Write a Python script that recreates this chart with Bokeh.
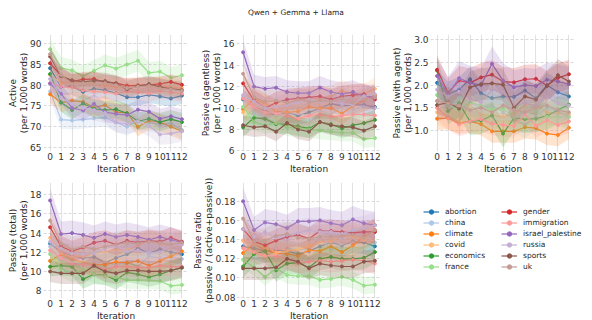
from bokeh.plotting import figure
from bokeh.layouts import column, row
from bokeh.models import (FixedTicker, PrintfTickFormatter, Range1d, Legend,
                          LegendItem, Div)
from bokeh.embed import file_html
from bokeh.resources import INLINE

FONT = "DejaVu Sans"
TITLE = "Qwen + Gemma + Llama"

iterations = list(range(13))
topics = ["abortion", "china", "climate", "covid", "economics", "france",
          "gender", "immigration", "israel_palestine", "russia", "sports", "uk"]
colors = ["#1f77b4", "#aec7e8", "#ff7f0e", "#ffbb78", "#2ca02c", "#98df8a",
          "#d62728", "#ff9896", "#9467bd", "#c5b0d5", "#8c564b", "#c49c94"]

# ---- Active (per 1,000 words)
active = {
    "abortion":         [84.1, 79.6, 79.7, 78.4, 79.1, 78.8, 78.1, 77.1, 77.1, 77.7, 77.3, 76.8, 77.5],
    "china":            [78.5, 71.7, 71.5, 71.7, 72.0, 72.2, 71.0, 70.0, 71.5, 71.0, 70.5, 70.8, 69.2],
    "climate":          [77.8, 75.8, 76.3, 76.0, 74.6, 75.2, 73.5, 73.3, 69.9, 71.5, 71.0, 70.0, 68.9],
    "covid":            [82.5, 80.5, 80.8, 80.5, 80.2, 80.0, 79.6, 79.8, 80.1, 79.7, 80.0, 79.4, 79.3],
    "economics":        [82.7, 75.8, 74.0, 75.6, 74.3, 74.0, 74.2, 73.2, 71.3, 71.9, 71.1, 71.8, 71.1],
    "france":           [88.7, 84.2, 83.6, 82.2, 83.5, 84.8, 84.0, 85.0, 85.9, 83.0, 83.3, 81.8, 82.4],
    "gender":           [85.3, 82.3, 80.9, 81.4, 81.5, 80.7, 80.5, 79.9, 79.9, 80.1, 80.3, 80.8, 80.1],
    "immigration":      [80.5, 79.7, 79.5, 78.8, 78.5, 78.3, 78.0, 78.5, 78.3, 78.0, 78.6, 78.3, 78.0],
    "israel_palestine": [80.4, 77.9, 74.5, 73.9, 75.5, 73.5, 73.1, 72.8, 74.1, 73.6, 71.9, 72.5, 71.8],
    "russia":           [81.5, 77.0, 75.5, 74.5, 74.0, 73.3, 71.0, 70.7, 71.3, 70.2, 68.1, 68.3, 68.9],
    "sports":           [86.9, 82.2, 81.2, 80.8, 81.1, 81.0, 80.4, 79.0, 79.8, 80.3, 79.6, 79.1, 78.8],
    "uk":               [87.5, 82.5, 80.3, 80.5, 80.0, 80.5, 80.0, 79.3, 79.6, 79.8, 79.2, 79.0, 78.6],
}
active_ci = [2.0, 2.2, 2.2, 2.0, 2.2, 2.6, 1.8, 2.0, 2.4, 2.5, 2.0, 2.2]

# ---- Passive (agentless)
agentless = {
    "abortion":         [10.8, 10.1, 9.7, 9.3, 9.6, 9.3, 9.6, 10.0, 10.4, 10.2, 10.3, 10.3, 10.1],
    "china":            [11.0, 9.5, 9.0, 9.3, 9.4, 9.5, 9.3, 9.8, 9.4, 10.2, 9.9, 10.1, 10.0],
    "climate":          [9.9, 10.9, 10.4, 9.7, 9.6, 9.7, 10.1, 10.0, 10.0, 9.5, 10.2, 10.7, 11.2],
    "covid":            [9.6, 10.5, 10.3, 9.9, 10.5, 10.7, 10.9, 10.9, 11.1, 11.6, 11.3, 11.3, 11.8],
    "economics":        [8.2, 9.1, 9.0, 8.5, 8.5, 8.3, 8.1, 8.7, 8.5, 8.1, 8.4, 8.6, 8.9],
    "france":           [10.1, 8.7, 8.4, 8.6, 8.2, 8.1, 8.0, 7.9, 7.8, 7.7, 7.7, 7.1, 7.2],
    "gender":           [12.3, 10.7, 10.0, 10.5, 10.8, 10.9, 11.0, 11.1, 10.8, 11.1, 11.2, 11.3, 10.8],
    "immigration":      [10.9, 10.1, 9.6, 9.5, 9.3, 9.0, 9.3, 9.4, 9.2, 9.3, 9.4, 9.4, 9.3],
    "israel_palestine": [15.2, 12.0, 11.8, 11.9, 11.5, 11.4, 11.4, 11.9, 11.5, 11.3, 11.5, 11.1, 11.0],
    "russia":           [11.2, 10.6, 10.0, 10.1, 10.3, 10.5, 10.8, 10.6, 10.6, 10.4, 10.3, 11.1, 11.3],
    "sports":           [8.4, 8.2, 8.3, 7.8, 8.6, 8.0, 7.8, 8.7, 8.4, 8.3, 8.2, 7.9, 8.3],
    "uk":               [13.2, 11.0, 10.6, 10.7, 10.5, 10.8, 10.6, 10.7, 10.6, 10.9, 10.5, 10.8, 11.0],
}
agentless_ci = [0.9, 0.9, 1.0, 1.0, 0.9, 0.8, 1.0, 0.9, 1.1, 1.0, 0.9, 1.1]

# ---- Passive (with agent)
with_agent = {
    "abortion":         [2.05, 1.80, 1.90, 2.13, 1.82, 1.71, 1.75, 1.74, 1.88, 1.71, 2.00, 1.84, 1.75],
    "china":            [1.65, 1.78, 1.80, 1.60, 1.50, 1.55, 1.40, 1.25, 1.12, 1.32, 1.50, 1.42, 1.30],
    "climate":          [1.26, 1.27, 1.17, 1.20, 1.14, 0.98, 0.98, 0.98, 1.07, 1.05, 0.93, 0.90, 1.06],
    "covid":            [1.40, 1.30, 1.20, 1.57, 1.35, 1.33, 1.30, 1.37, 1.57, 1.57, 1.40, 1.38, 1.35],
    "economics":        [2.32, 1.43, 1.60, 1.20, 1.22, 1.33, 0.93, 1.27, 1.25, 1.26, 1.32, 1.45, 1.57],
    "france":           [1.78, 1.55, 1.45, 1.62, 1.55, 1.45, 1.48, 1.28, 1.30, 1.40, 1.30, 1.30, 1.30],
    "gender":           [2.34, 1.83, 2.10, 2.05, 2.17, 2.23, 2.08, 2.06, 2.13, 2.14, 1.99, 2.16, 2.24],
    "immigration":      [1.50, 1.28, 1.13, 1.20, 1.25, 1.15, 1.12, 1.10, 1.35, 1.10, 1.22, 1.12, 1.20],
    "israel_palestine": [2.20, 1.80, 2.15, 2.05, 2.00, 2.47, 2.10, 1.95, 2.00, 1.98, 2.12, 2.08, 2.02],
    "russia":           [1.90, 1.75, 1.85, 1.70, 1.62, 1.90, 1.85, 1.55, 1.60, 1.55, 1.75, 1.60, 1.55],
    "sports":           [1.56, 1.62, 1.48, 1.95, 2.02, 2.04, 2.01, 1.50, 1.75, 1.68, 1.98, 2.22, 2.08],
    "uk":               [1.65, 1.60, 1.55, 1.45, 1.50, 1.40, 1.55, 1.45, 1.40, 1.50, 1.55, 1.45, 1.40],
}
with_agent_ci = [0.28, 0.30, 0.25, 0.28, 0.30, 0.28, 0.32, 0.26, 0.38, 0.32, 0.35, 0.30]

# ---- Passive (total)
total = {
    "abortion":         [12.9, 12.0, 11.6, 11.4, 11.5, 10.9, 11.4, 11.8, 12.4, 11.9, 12.3, 12.0, 11.8],
    "china":            [12.6, 11.2, 10.8, 10.9, 10.9, 11.0, 10.7, 11.0, 10.5, 11.6, 11.4, 11.5, 11.3],
    "climate":          [11.1, 11.8, 11.3, 10.9, 10.7, 10.7, 11.0, 10.9, 11.1, 10.6, 11.1, 11.6, 12.1],
    "covid":            [13.5, 11.9, 11.5, 11.6, 11.9, 12.0, 12.3, 12.2, 12.7, 13.2, 12.9, 12.6, 13.1],
    "economics":        [10.5, 10.6, 10.5, 9.2, 9.7, 9.6, 9.1, 9.9, 9.7, 9.4, 9.7, 10.1, 10.4],
    "france":           [11.8, 10.3, 9.8, 10.2, 9.7, 9.5, 9.4, 9.1, 9.1, 9.1, 9.0, 8.5, 8.6],
    "gender":           [14.6, 12.6, 12.1, 12.5, 13.0, 13.2, 12.8, 13.2, 13.0, 13.2, 13.1, 13.5, 13.1],
    "immigration":      [12.2, 11.4, 10.8, 10.7, 10.6, 10.2, 10.5, 10.5, 10.4, 10.4, 10.6, 10.5, 10.5],
    "israel_palestine": [17.4, 13.9, 14.0, 13.8, 13.5, 13.9, 13.6, 13.8, 13.6, 13.3, 13.6, 13.3, 13.0],
    "russia":           [13.1, 12.4, 11.9, 11.8, 11.9, 12.4, 12.7, 12.1, 12.2, 11.9, 12.0, 12.7, 12.8],
    "sports":           [10.0, 9.8, 9.8, 9.8, 10.6, 10.0, 9.8, 10.1, 10.1, 10.0, 10.0, 10.1, 10.4],
    "uk":               [15.3, 12.9, 12.3, 12.6, 12.3, 12.6, 12.8, 13.0, 12.9, 13.1, 13.0, 12.8, 13.0],
}
total_ci = [1.1, 1.1, 1.1, 1.1, 1.0, 0.9, 1.1, 1.0, 1.3, 1.2, 1.1, 1.3]

# ---- Passive ratio
ratio = {
    "abortion":         [0.133, 0.131, 0.128, 0.129, 0.128, 0.125, 0.128, 0.133, 0.137, 0.134, 0.138, 0.137, 0.133],
    "china":            [0.139, 0.135, 0.130, 0.131, 0.131, 0.130, 0.130, 0.143, 0.129, 0.136, 0.137, 0.139, 0.137],
    "climate":          [0.126, 0.136, 0.129, 0.126, 0.125, 0.123, 0.129, 0.128, 0.133, 0.127, 0.134, 0.143, 0.150],
    "covid":            [0.139, 0.136, 0.132, 0.127, 0.128, 0.130, 0.133, 0.137, 0.138, 0.144, 0.143, 0.140, 0.149],
    "economics":        [0.112, 0.125, 0.128, 0.108, 0.115, 0.116, 0.111, 0.120, 0.122, 0.120, 0.120, 0.121, 0.127],
    "france":           [0.119, 0.111, 0.101, 0.110, 0.103, 0.102, 0.102, 0.098, 0.099, 0.101, 0.098, 0.092, 0.093],
    "gender":           [0.151, 0.138, 0.134, 0.139, 0.143, 0.145, 0.141, 0.149, 0.149, 0.148, 0.147, 0.148, 0.148],
    "immigration":      [0.131, 0.127, 0.123, 0.123, 0.120, 0.116, 0.117, 0.118, 0.117, 0.118, 0.119, 0.118, 0.115],
    "israel_palestine": [0.180, 0.150, 0.158, 0.156, 0.152, 0.159, 0.159, 0.160, 0.157, 0.155, 0.161, 0.157, 0.155],
    "russia":           [0.151, 0.143, 0.148, 0.142, 0.145, 0.147, 0.150, 0.148, 0.148, 0.146, 0.150, 0.152, 0.155],
    "sports":           [0.110, 0.110, 0.110, 0.111, 0.120, 0.117, 0.110, 0.115, 0.113, 0.112, 0.112, 0.117, 0.118],
    "uk":               [0.162, 0.138, 0.139, 0.144, 0.146, 0.142, 0.141, 0.143, 0.143, 0.144, 0.145, 0.142, 0.150],
}
ratio_ci = [0.012, 0.012, 0.012, 0.012, 0.012, 0.009, 0.012, 0.011, 0.014, 0.013, 0.012, 0.013]

TEXT = "#262626"


def panel(data, ci, ylabel, yr, yticks, fmt, left, right, top, bottom, fh, lab_so=2, ax_so=-2):
    p = figure(frame_width=145, frame_height=fh,
               x_range=Range1d(-0.6, 12.6), y_range=Range1d(*yr),
               output_backend="svg", toolbar_location=None,
               min_border_left=left, min_border_right=right,
               min_border_top=top, min_border_bottom=bottom)
    p.outline_line_color = None
    for t, c, hw in zip(topics, colors, ci):
        y = data[t]
        lo = [v - hw for v in y]
        hi = [v + hw for v in y]
        p.varea(x=iterations, y1=lo, y2=hi, fill_color=c, fill_alpha=0.2)
        p.line(iterations, y, line_color=c, line_width=1.2)
        p.scatter(iterations, y, size=3.0, fill_color=c, line_color=c)
    p.xaxis.ticker = FixedTicker(ticks=iterations)
    p.yaxis.ticker = FixedTicker(ticks=yticks)
    p.yaxis.formatter = PrintfTickFormatter(format=fmt)
    p.xaxis.axis_label = "Iteration"
    p.yaxis.axis_label = ylabel
    for ax in (p.xaxis[0], p.yaxis[0]):
        ax.axis_line_color = None
        ax.major_tick_line_color = None
        ax.minor_tick_line_color = None
        ax.major_tick_out = 0
        ax.major_tick_in = 0
        ax.minor_tick_out = 0
        ax.minor_tick_in = 0
        ax.major_label_text_font = FONT
        ax.major_label_text_font_size = "9px"
        ax.major_label_text_color = "#333333"
        ax.axis_label_text_font = FONT
        ax.axis_label_text_font_size = "9px"
        ax.axis_label_text_font_style = "normal"
        ax.axis_label_text_color = TEXT
        ax.axis_label_text_line_height = 1.15
    p.xaxis.major_label_standoff = 1
    p.xaxis.axis_label_standoff = 1
    p.yaxis.major_label_standoff = lab_so
    p.yaxis.axis_label_standoff = ax_so
    p.xgrid.grid_line_color = "#e2e2e2"
    p.xgrid.grid_line_width = 1.1
    p.ygrid.grid_line_color = "#cfcfcf"
    p.ygrid.grid_line_width = 0.8
    p.ygrid.grid_line_dash = "3 2"
    return p


FH1, FH2 = 117, 116
TOP1, BOT = 9, 23
f1 = panel(active, active_ci, "Active\n(per 1,000 words)", (64.0, 92.24),
           [65, 70, 75, 80, 85, 90], "%d", 43, 0, TOP1, BOT, FH1)
f2 = panel(agentless, agentless_ci, "Passive (agentless)\n(per 1,000 words)", (5.95, 16.86),
           [6, 8, 10, 12, 14, 16], "%d", 48, 4, TOP1, BOT, FH1)
f3 = panel(with_agent, with_agent_ci, "Passive (with agent)\n(per 1,000 words)", (0.535, 3.117),
           [1.0, 1.5, 2.0, 2.5, 3.0], "%.1f", 45, 12, TOP1, BOT, FH1)
f4 = panel(total, total_ci, "Passive (total)\n(per 1,000 words)", (7.18, 19.27),
           [8, 10, 12, 14, 16, 18], "%d", 43, 0, 6, BOT, FH2)
f5 = panel(ratio, ratio_ci, "Passive ratio\n(passive / (active+passive))", (0.0786, 0.1996),
           [0.08, 0.10, 0.12, 0.14, 0.16, 0.18], "%.2f", 48, 4, 6, BOT, FH2, lab_so=1, ax_so=-2)

# legend panel (its renderers sit outside the visible range; only the legend shows)
f6 = figure(frame_width=202, frame_height=FH2, x_range=Range1d(0, 1), y_range=Range1d(0, 1),
            output_backend="svg", toolbar_location=None, x_axis_type=None, y_axis_type=None,
            min_border_left=0, min_border_right=0, min_border_top=6, min_border_bottom=BOT)
f6.outline_line_color = None
f6.grid.visible = False
items = []
for t, c in zip(topics, colors):
    rl = f6.line(x=iterations, y=active[t], line_color=c, line_width=1.2)
    rs = f6.scatter(x=iterations, y=active[t], size=2.5, fill_color=c, line_color=c)
    items.append(LegendItem(label=t, renderers=[rl, rs]))


def make_legend(its, x, y):
    return Legend(items=its, location=(x, y), orientation="vertical",
                  label_text_font=FONT, label_text_font_size="7.5px", label_text_color=TEXT,
                  glyph_width=16, glyph_height=11, label_height=11, label_standoff=6,
                  spacing=0, padding=0, margin=0, border_line_color=None,
                  background_fill_alpha=0)


f6.add_layout(make_legend(items[:6], 38, 26))
f6.add_layout(make_legend(items[6:], 116, 26))

title = Div(text=TITLE, width=592, height=25, margin=0,
            styles={"font-size": "7.5px", "font-family": FONT, "text-align": "center",
                    "line-height": "25px", "color": TEXT, "width": "592px"})

layout = column(title, row(f1, f2, f3, spacing=0), row(f4, f5, f6, spacing=0), spacing=0)

open("out.html", "w").write(file_html(layout, INLINE))
